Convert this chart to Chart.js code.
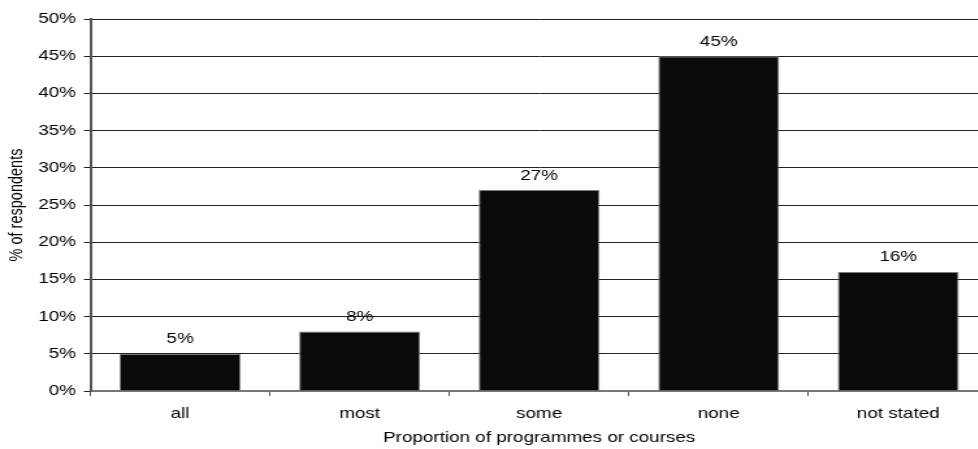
<!DOCTYPE html>
<html>
<head>
<meta charset="utf-8">
<script src="https://cdn.jsdelivr.net/npm/chart.js@4/dist/chart.umd.min.js"></script>
<style>
html,body{margin:0;padding:0;background:#fff;overflow:hidden;}
#wrap{width:978px;height:449px;overflow:hidden;position:relative;}
#c{position:absolute;left:0;top:0;transform:scaleX(1.3);transform-origin:0 0;}
</style>
</head>
<body>
<div id="wrap"><canvas id="c" width="760" height="449"></canvas></div>
<script>
const categories = ["all", "most", "some", "none", "not stated"];
const values = [5, 8, 27, 45, 16];
const yTicks = [0, 5, 10, 15, 20, 25, 30, 35, 40, 45, 50];

const FONT = "'Liberation Sans', Arial, sans-serif";
const FS = 14.5;

const valueLabels = {
  id: 'valueLabels',
  afterDatasetsDraw(chart) {
    const ctx = chart.ctx;
    const meta = chart.getDatasetMeta(0);
    ctx.save();
    ctx.font = FS + "px " + FONT;
    ctx.fillStyle = '#000';
    ctx.textAlign = 'center';
    ctx.textBaseline = 'middle';
    meta.data.forEach((bar, i) => {
      ctx.fillText(values[i] + '%', bar.x, bar.y - 14.5);
    });
    ctx.restore();
  }
};

new Chart(document.getElementById('c'), {
  type: 'bar',
  data: {
    labels: categories,
    datasets: [{
      data: values,
      backgroundColor: '#0a0a0a',
      borderColor: '#808080',
      borderWidth: 1,
      barPercentage: 0.674,
      categoryPercentage: 1.0
    }]
  },
  options: {
    responsive: false,
    animation: false,
    layout: { padding: { top: 19, left: 0, right: 0, bottom: 0 } },
    plugins: { legend: { display: false }, tooltip: { enabled: false } },
    scales: {
      x: {
        grid: { display: true, drawOnChartArea: false, drawTicks: true, tickLength: 5, offset: true, color: '#555', lineWidth: 1 },
        border: { display: true, color: '#777', width: 2 },
        ticks: { color: '#000', font: { family: FONT, size: FS }, padding: 9 },
        title: { display: true, text: 'Proportion of programmes or courses', color: '#000', font: { family: FONT, size: FS }, padding: { top: 2, bottom: 2 } },
        afterFit(s) { s.height = 58; }
      },
      y: {
        min: 0, max: 50,
        afterBuildTicks(s) { s.ticks = yTicks.map(v => ({ value: v })); },
        grid: { color: '#222', lineWidth: 1, tickLength: 5, drawTicks: true },
        border: { display: true, color: '#555', width: 2 },
        ticks: { color: '#000', font: { family: FONT, size: FS }, padding: 6, callback: v => v + '%' },
        title: { display: true, text: '% of respondents', color: '#000', font: { family: FONT, size: FS }, padding: { top: 4, bottom: 0 } },
        afterFit(s) { s.width = 69.5; }
      }
    }
  },
  plugins: [valueLabels]
});
</script>
</body>
</html>
